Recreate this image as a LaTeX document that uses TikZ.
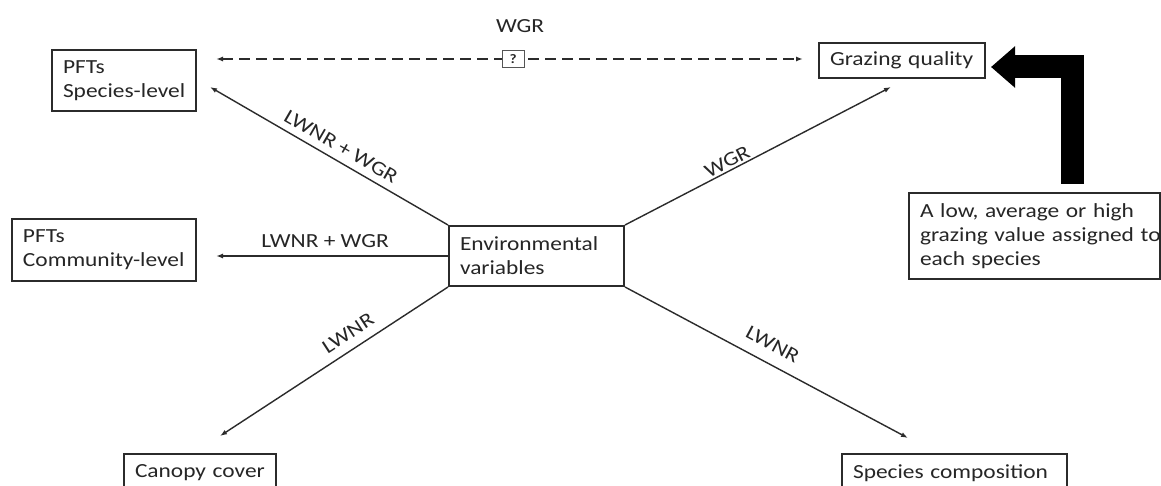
\documentclass[tikz,border=0pt]{standalone}
\usepackage{fontspec}
\setmainfont{Carlito}[FakeStretch=1.17]
\usetikzlibrary{arrows.meta}
\definecolor{ink}{HTML}{2B2B2B}
\definecolor{txt}{HTML}{262626}
\begin{document}
\begin{tikzpicture}[x=1pt,y=-1pt,
  font=\fontsize{20pt}{24pt}\selectfont,
  box/.style={draw=ink, line width=2pt, align=left, inner xsep=11pt, inner ysep=0pt, text=txt},
  conn/.style={draw=ink, line width=1.4pt, -{Latex[length=7pt,width=5pt]}},
  lab/.style={inner sep=0pt, text=txt},
  qbox/.style={draw=ink!80, solid, line width=0.8pt, fill=white, minimum width=22pt, minimum height=17pt, inner sep=0pt, text=txt, font=\fontsize{13pt}{13pt}\selectfont\bfseries}
]
\useasboundingbox (0,0) rectangle (1161,486);
\clip (0,0) rectangle (1161,486);
\fill[white] (0,0) rectangle (1161,486);

% boxes
\node[box, text width=122pt, minimum height=61pt] (sp)  at (124,80.5)  {\mbox{PFTs}\\\mbox{Species-level}};
\node[box, text width=162pt, minimum height=62pt] (com) at (104,250)   {\mbox{PFTs}\\\mbox{Community-level}};
\node[box, text width=153pt, minimum height=60pt] (env) at (536.5,256) {\mbox{Environmental}\\\mbox{variables}};
\node[box, text width=144pt, minimum height=35pt] (gq)  at (902,60.5)  {\mbox{Grazing quality}};
\node[box, text width=229pt, minimum height=86pt] (low) at (1034.5,236) {\mbox{A low, average or high}\\\mbox{grazing value assigned to}\\\mbox{each species}};
\node[box, text width=130pt, minimum height=38pt] (can) at (200,473)   {\mbox{Canopy cover}};
\node[box, text width=203pt, minimum height=38pt] (spc) at (954.5,473) {\mbox{Species composition}};

% arrow end points
\coordinate (tsp)  at ([shift={(13,6.5)}]sp.east);
\coordinate (tcom) at ([shift={(19,6)}]com.east);
\coordinate (tgq)  at ([shift={(-11,8)}]gq.south);
\coordinate (tcan) at ([shift={(20,-17)}]can.north);
\coordinate (tspc) at ([shift={(-46.5,-15)}]spc.north);
\coordinate (dl)   at ([shift={(19,-21.5)}]sp.east);
\coordinate (dr)   at ([shift={(-15,-1.5)}]gq.west);
\coordinate (bstart) at ([shift={(38,-8)}]low.north);

% connectors
\draw[conn] (env.north west) -- node[lab, sloped, above=7pt, pos=0.48] {LWNR + WGR} (tsp);
\draw[conn] (env.west) -- node[lab, above=7.5pt, pos=0.53] {LWNR + WGR} (tcom);
\draw[conn] (env.north east) -- node[lab, sloped, above=2pt, pos=0.4] {WGR} (tgq);
\draw[conn] (env.south west) -- node[lab, sloped, above=9pt, pos=0.4] {LWNR} (tcan);
\draw[conn] (env.south east) -- node[lab, sloped, above=12pt, pos=0.49] {LWNR} (tspc);

% dashed relation with question mark
\draw[conn, dash pattern=on 11pt off 6pt, {Latex[length=7pt,width=5pt]}-{Latex[length=7pt,width=5pt]}]
  (dl) -- node[qbox, pos=0.506] (q) {?} (dr);
\node[lab] (wgr) at ([shift={(7,-33)}]q.center) {WGR};

% big black arrow
\draw[line width=23pt, draw=black, -{Triangle[length=24pt 0, width=40pt 0]}]
  (bstart) |- ([shift={(5,6.5)}]gq.east);
\end{tikzpicture}
\end{document}
